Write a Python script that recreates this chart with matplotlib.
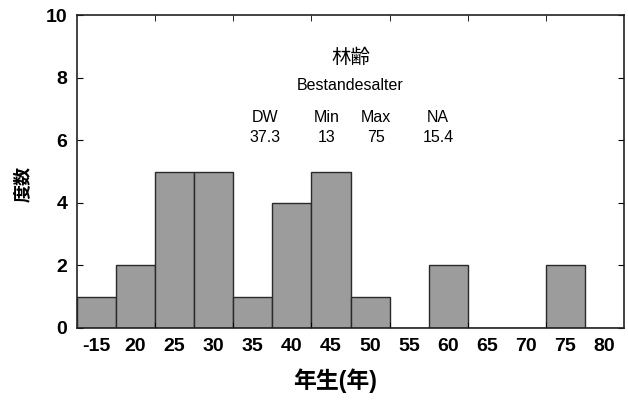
import numpy as np
import matplotlib
matplotlib.use('Agg')
import matplotlib.pyplot as plt

plt.rcParams['font.family'] = ['Liberation Sans', 'Noto Sans CJK JP', 'DejaVu Sans']

# data
labels = ['-15', '20', '25', '30', '35', '40', '45', '50', '55', '60', '65', '70', '75', '80']
counts = [1, 2, 5, 5, 1, 4, 5, 1, 0, 2, 0, 0, 2, 0]
stat_names = ['DW', 'Min', 'Max', 'NA']
stat_values = ['37.3', '13', '75', '15.4']

fig = plt.figure(figsize=(6.28, 4.0), dpi=100)
ax = fig.add_axes([77/628, 1 - 328/400, 547/628, 313/400])

x = np.arange(len(labels))
ax.bar(x, counts, width=1.0, color='#9c9c9c', edgecolor='#2a2a2a', linewidth=1.0)

ax.set_xlim(-0.5, len(labels) - 0.5)
ax.set_ylim(0, 10)
ax.set_xticks(x)
ax.set_xticklabels(labels, fontsize=14, fontweight='bold')
ax.set_yticks([0, 2, 4, 6, 8, 10])
ax.set_yticklabels(['0', '2', '4', '6', '8', '10'], fontsize=14, fontweight='bold')
ax.tick_params(axis='x', length=0, pad=7)
ax.tick_params(axis='y', direction='in', right=True, length=4, pad=7)
ax.set_xticks(np.arange(1.5, len(labels) - 1, 2), minor=True)
ax.tick_params(axis='x', which='minor', direction='in', top=True, bottom=True, length=4)
for s in ax.spines.values():
    s.set_linewidth(1.2)
    s.set_color('#222222')

ax.set_xlabel('年生(年)', fontsize=16.5, fontweight='bold')
ax.xaxis.set_label_coords(0.472, -0.13)
ax.set_ylabel('度数', fontsize=13, fontweight='bold')
ax.yaxis.set_label_coords(-0.082, 0.46)

# annotations
ax.text(6.5, 8.63, '林齢', ha='center', va='center', fontsize=14)
ax.text(6.5, 7.76, 'Bestandesalter', ha='center', va='center', fontsize=11.5)
stat_x = [4.31, 5.9, 7.15, 8.74]
for sx, name, val in zip(stat_x, stat_names, stat_values):
    ax.text(sx, 6.74, name, ha='center', va='center', fontsize=11.5)
    ax.text(sx, 6.1, val, ha='center', va='center', fontsize=11.5)

fig.savefig('out.png', dpi=100)
